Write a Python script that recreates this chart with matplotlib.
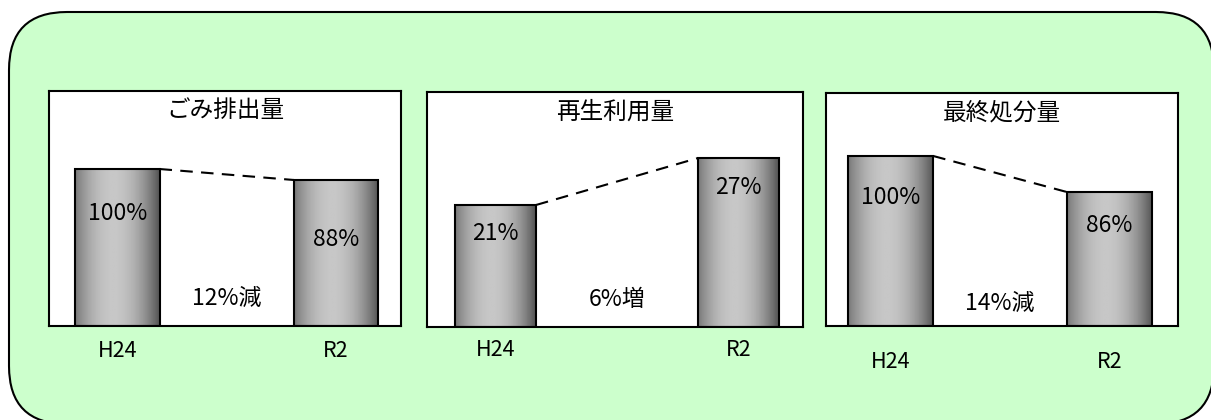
import numpy as np
import matplotlib
matplotlib.use("Agg")
import matplotlib.pyplot as plt
from matplotlib.patches import FancyBboxPatch

plt.rcParams['font.family'] = ['Noto Sans CJK JP', 'DejaVu Sans']

# ---------------------------------------------------------------------------
# Data (the graphic is schematic: bar heights as drawn, labels as printed)
# ---------------------------------------------------------------------------
titles      = ["ごみ排出量", "再生利用量", "最終処分量"]
years       = ["H24", "R2"]
bar_heights = [[157, 146], [122, 169], [170, 134]]
value_text  = [["100%", "88%"], ["21%", "27%"], ["100%", "86%"]]
change_text = ["12%減", "6%増", "14%減"]

# ---------------------------------------------------------------------------
# Layout (pixels of a 1211x420 canvas)
# ---------------------------------------------------------------------------
W, H = 1211, 420
panel_box  = [(49, 91, 352, 235), (427, 92, 376, 235), (826, 93, 352, 233)]
panel_xlim = [(-0.313, 1.297), (-0.282, 1.265), (-0.295, 1.313)]
bar_width  = [0.385, 0.333, 0.39]
label_drop = [[44, 59], [28, 29], [42, 34]]
change_y   = [28, 28, 23]
tick_pad   = [10, 9, 18]

fig = plt.figure(figsize=(W / 100, H / 100), dpi=100)
fig.patch.set_facecolor("white")

# rounded green background
bg = fig.add_axes([0, 0, 1, 1])
bg.set_xlim(0, W)
bg.set_ylim(H, 0)
bg.axis("off")
bg.add_patch(FancyBboxPatch((9, 12), 1205, 412,
                            boxstyle="round,pad=0,rounding_size=58",
                            facecolor="#ccffcc", edgecolor="black", lw=1.5,
                            clip_on=False))

# horizontal shading for the bars
t = np.linspace(0, 1, 64)
shade = 0.33 + 0.45 * np.clip(1 - ((t - 0.45) / 0.55) ** 2, 0, 1)
shade = shade[np.newaxis, :]

for k in range(3):
    px, py, pw, ph = panel_box[k]
    ax = fig.add_axes([px / W, (H - py - ph) / H, pw / W, ph / H])
    ax.set_facecolor("white")
    for s in ax.spines.values():
        s.set_linewidth(1.5)
        s.set_color("black")

    xs = np.arange(len(years))
    bw = bar_width[k]
    bars = ax.bar(xs, bar_heights[k], width=bw, facecolor="none",
                  edgecolor="black", lw=1.5, zorder=3)
    for b in bars:
        im = ax.imshow(shade, extent=(b.get_x(), b.get_x() + b.get_width(),
                                      0, b.get_height()),
                       aspect="auto", cmap="gray", vmin=0, vmax=1, zorder=2)
        im.set_clip_path(b)

    # dashed connector between bar tops
    h0, h1 = bar_heights[k]
    ax.plot([xs[0] + bw / 2, xs[1] - bw / 2], [h0, h1], color="black",
            lw=1.5, dashes=(6, 4), zorder=4)

    for i, b in enumerate(bars):
        ax.text(xs[i], bar_heights[k][i] - label_drop[k][i], value_text[k][i],
                ha="center", va="center", fontsize=16.5, zorder=5)

    ax.text(0.5, change_y[k], change_text[k], ha="center", va="center",
            fontsize=16.5, zorder=5)
    ax.text(0.5, 0.915, titles[k], transform=ax.transAxes, ha="center",
            va="center", fontsize=17)

    ax.set_xlim(*panel_xlim[k])
    ax.set_ylim(0, ph)
    ax.set_yticks([])
    ax.set_xticks(xs, years, fontsize=15.5)
    ax.tick_params(axis="x", length=0, pad=tick_pad[k])

fig.savefig("out.png", dpi=100, facecolor="white")
